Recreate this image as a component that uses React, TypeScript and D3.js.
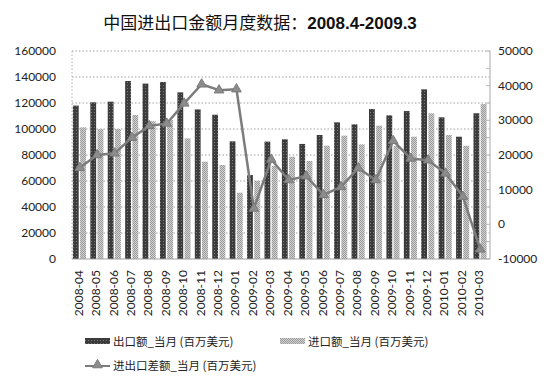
import React from "react";
import * as d3 from "d3";

const categories = ["2008-04","2008-05","2008-06","2008-07","2008-08","2008-09","2008-10","2008-11","2008-12","2009-01","2009-02","2009-03","2009-04","2009-05","2009-06","2009-07","2009-08","2009-09","2009-10","2009-11","2009-12","2010-01","2010-02","2010-03"];
const exportsVals = [118000,120500,121000,136900,134900,136200,128200,115100,111000,90500,64600,90300,92100,88500,95400,105100,103600,115400,110500,113800,130500,109000,94100,112100];
const importsVals = [101300,100000,100000,110800,106000,106900,92800,74900,72300,51000,60200,71700,78700,75400,87200,94900,88200,102600,87000,94100,112100,95400,87100,119200];
const diffVals = [16300,20000,20500,25000,28400,29100,34900,40400,38700,39000,4600,18700,12800,13900,8500,10800,16200,12800,24100,19000,18500,14700,8000,-7200];
const leftTicks = [0,20000,40000,60000,80000,100000,120000,140000,160000];
const rightTicks = [-10000,0,10000,20000,30000,40000,50000];
const titleMain = "中国进出口金额月度数据：";
const titleBold = "2008.4-2009.3";
const legendExport = "出口额_当月 (百万美元)";
const legendImport = "进口额_当月 (百万美元)";
const legendDiff = "进出口差额_当月 (百万美元)";

const W = 554, H = 385;
const L = 72, R = 490, T = 51, B = 259;
const FONT = "Lato, 'Noto Sans CJK SC', sans-serif";
const CJK = "'Noto Sans CJK SC', sans-serif";

export default function App() {
  const x = d3.scaleBand().domain(categories).range([L, R]).padding(0);
  const yL = d3.scaleLinear().domain([0, 160000]).range([B, T]);
  const yR = d3.scaleLinear().domain([-10000, 50000]).range([B, T]);
  const cx = (c: string) => (x(c) as number) + x.bandwidth() / 2;
  const line = d3.line<number>()
    .x((_, i) => cx(categories[i]) - 1)
    .y((d) => yR(d));
  const tri = d3.symbol().type(d3.symbolTriangle).size(40)();
  const rTickMinor = d3.range(-10000, 50001, 5000);

  return (
    <svg width={W} height={H} style={{ position: "absolute", left: 0, top: 0, background: "#fff" }}>
      <defs>
        <pattern id="darkP" width="3" height="3" patternUnits="userSpaceOnUse">
          <rect width="3" height="3" fill="#3c3c3c" />
          <rect x="1" y="1" width="1" height="1" fill="#7a7a7a" />
        </pattern>
        <pattern id="lightP" width="2" height="2" patternUnits="userSpaceOnUse">
          <rect width="2" height="2" fill="#d2d2d2" />
          <rect x="0" y="0" width="1" height="1" fill="#9a9a9a" />
          <rect x="1" y="1" width="1" height="1" fill="#9a9a9a" />
        </pattern>
      </defs>
      <rect x={0} y={0} width={W} height={H} fill="#fff" />
      <text x={260} y={29} textAnchor="middle" fontSize={17} fill="#111" fontFamily={CJK}>
        {titleMain}
        <tspan fontWeight="bold" fontFamily="'Liberation Sans', Arial, sans-serif">{titleBold}</tspan>
      </text>
      {leftTicks.map((t) => (
        <g key={"l" + t}>
          {t > 0 && (
            <line x1={L} x2={R} y1={yL(t)} y2={yL(t)} stroke="#a0a0a0" strokeDasharray="1.5,2" />
          )}
          <text x={56} y={yL(t) + 4} textAnchor="end" fontSize={12} fill="#222" fontFamily={FONT}>{t}</text>
        </g>
      ))}
      <line x1={L} x2={L} y1={T} y2={B} stroke="#b0b0b0" strokeDasharray="1.5,2" />
      {categories.map((c, i) => (
        <g key={c}>
          <rect x={cx(c) - 7.8} y={yL(exportsVals[i])} width={5.8} height={B - yL(exportsVals[i])} fill="url(#darkP)" />
          <rect x={cx(c) - 0.6} y={yL(importsVals[i])} width={5.9} height={B - yL(importsVals[i])} fill="url(#lightP)" />
          <text transform={`translate(${cx(c) + 2},${B + 11}) rotate(-90)`} textAnchor="end" fontSize={12} fill="#222" fontFamily={FONT}>{c}</text>
        </g>
      ))}
      <line x1={L} x2={R} y1={B} y2={B} stroke="#a0a0a0" strokeWidth={1.2} />
      <line x1={R} x2={R} y1={T} y2={B} stroke="#b8b8b8" strokeWidth={1.2} />
      {rTickMinor.map((t) => (
        <line key={"rt" + t} x1={R - 4} x2={R} y1={yR(t)} y2={yR(t)} stroke="#b8b8b8" />
      ))}
      {rightTicks.map((t) => (
        <text key={"r" + t} x={498} y={yR(t) + 4} fontSize={12} fill="#222" fontFamily={FONT}>{t}</text>
      ))}
      <path d={line(diffVals) || ""} fill="none" stroke="#7c7c7c" strokeWidth={2.5} strokeLinejoin="round" />
      {diffVals.map((v, i) => (
        <path key={"m" + i} d={tri || ""} transform={`translate(${cx(categories[i]) - 1},${yR(v)})`} fill="#8c8c8c" stroke="#7a7a7a" strokeWidth={1} />
      ))}
      <g fontFamily={CJK} fontSize={11.5} fill="#222">
        <rect x={85} y={338} width={25} height={6} fill="url(#darkP)" />
        <text x={113} y={346}>{legendExport}</text>
        <rect x={280} y={338} width={25} height={6} fill="url(#lightP)" />
        <text x={308} y={346}>{legendImport}</text>
        <line x1={85} x2={110} y1={366} y2={366} stroke="#7c7c7c" strokeWidth={2} />
        <path d={tri || ""} transform="translate(97.5,365)" fill="#8c8c8c" stroke="#7a7a7a" />
        <text x={113} y={370}>{legendDiff}</text>
      </g>
    </svg>
  );
}
